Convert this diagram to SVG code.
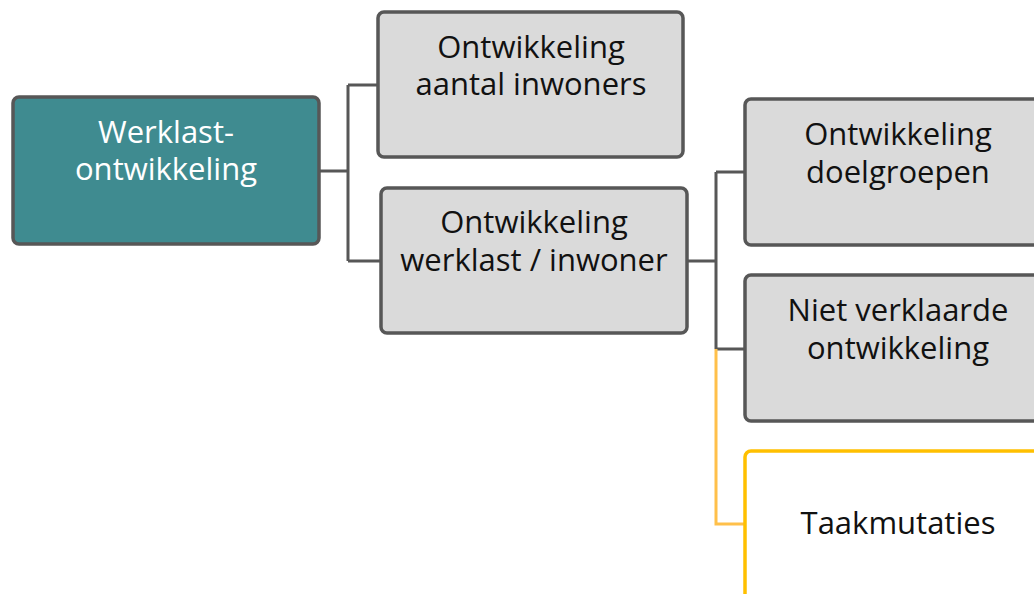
<svg xmlns="http://www.w3.org/2000/svg" width="1034" height="594" viewBox="0 0 1034 594">
<style>
.box{fill:#DADADA;stroke:#575757;stroke-width:3.5}
.root{fill:#3F8B90;stroke:#575757;stroke-width:3.5}
.yel{fill:#FFFFFF;stroke:#FFC000;stroke-width:3.5}
.t{font-family:"Open Sans","Noto Sans",sans-serif;font-size:31px;fill:#111111;text-anchor:middle}
.tw{fill:#FFFFFF}
.c{fill:none;stroke:#575757;stroke-width:3}
.cy{fill:none;stroke:#FFC04A;stroke-width:3}
</style>
<rect width="1034" height="594" fill="#FFFFFF"/>
<g id="connectors">
<path class="c" d="M319 171H348M348 85V261M348 85H378M348 261H381"/>
<path class="c" d="M687 261H716M716 172V349M716 172H745M716 349H745"/>
<path class="cy" d="M716 349V524H745"/>
</g>
<g id="root">
<rect class="root" x="13" y="97" width="306" height="147" rx="6"/>
<text class="t tw" x="166" y="143">Werklast-</text>
<text class="t tw" x="166" y="180">ontwikkeling</text>
</g>
<g id="n1">
<rect class="box" x="378" y="12" width="305" height="145" rx="6"/>
<text class="t" x="531" y="58">Ontwikkeling</text>
<text class="t" x="531" y="95">aantal inwoners</text>
</g>
<g id="n2">
<rect class="box" x="381" y="188" width="306" height="145" rx="6"/>
<text class="t" x="534" y="233">Ontwikkeling</text>
<text class="t" x="534" y="271">werklast / inwoner</text>
</g>
<g id="n3">
<rect class="box" x="745" y="99" width="306" height="146" rx="6"/>
<text class="t" x="898" y="145">Ontwikkeling</text>
<text class="t" x="898" y="183">doelgroepen</text>
</g>
<g id="n4">
<rect class="box" x="745" y="275" width="306" height="146" rx="6"/>
<text class="t" x="898" y="321">Niet verklaarde</text>
<text class="t" x="898" y="359">ontwikkeling</text>
</g>
<g id="n5">
<rect class="yel" x="745" y="451" width="306" height="160" rx="6"/>
<text class="t" x="898" y="534">Taakmutaties</text>
</g>
</svg>
